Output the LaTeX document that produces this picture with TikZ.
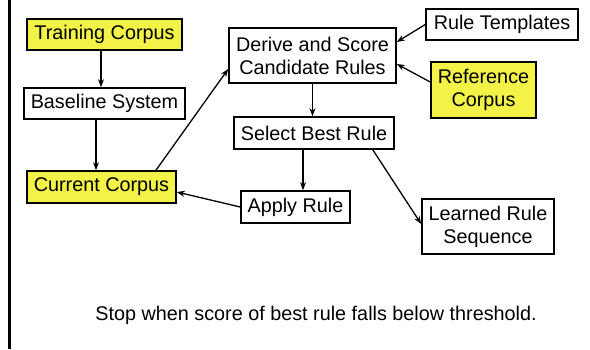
\documentclass[tikz,border=0pt]{standalone}
\usepackage{fontspec}
\setmainfont{Liberation Sans}
\usetikzlibrary{arrows.meta}
\definecolor{hilite}{RGB}{242,242,72}
\tikzset{
  box/.style={draw=black, line width=1.6pt, rectangle, inner sep=0pt, align=center,
    font=\fontsize{19.8}{23}\selectfont},
  yellowbox/.style={box, fill=hilite},
  arr/.style={line width=1.3pt, -{Stealth[length=8pt,width=6pt]}},
}
\begin{document}
\begin{tikzpicture}[x=1pt, y=-1pt]
  \useasboundingbox (0,0) rectangle (590,349);
  % left rule
  \draw[line width=3pt] (9,0) -- (9,349);

  % left column
  \node[yellowbox, minimum width=155pt, minimum height=31pt] (train) at (104.5,34.5) {Training Corpus};
  \node[box, minimum width=161pt, minimum height=31pt] (base) at (104.5,103.5) {Baseline System};
  \node[yellowbox, minimum width=149pt, minimum height=32pt] (cur) at (101.5,187) {Current Corpus};

  % centre column
  \node[box, minimum width=167pt, minimum height=55pt] (derive) at (312.5,55.5) {Derive and Score\\Candidate Rules};
  \node[box, minimum width=160pt, minimum height=32pt] (select) at (314,133) {Select Best Rule};
  \node[box, minimum width=109pt, minimum height=32pt] (apply) at (295.5,207) {Apply Rule};

  % right column
  \node[box, minimum width=152pt, minimum height=31pt] (templ) at (502,24.5) {Rule Templates};
  \node[yellowbox, minimum width=105pt, minimum height=56pt] (ref) at (483.5,90) {Reference\\Corpus};
  \node[box, minimum width=132pt, minimum height=55pt] (learned) at (488,226.5) {Learned Rule\\Sequence};

  % stopping condition
  \node[font=\fontsize{19.8}{23}\selectfont, inner sep=0pt] (stop) at (316,315)
    {Stop when score of best rule falls below threshold.};

  % connectors
  \draw[arr] ([xshift=-3.5pt]train.south) -- ([xshift=-3.5pt]base.north);
  \draw[arr] ([xshift=-8.5pt]base.south) -- ([xshift=-5.5pt]cur.north);
  \draw[arr] ([xshift=54.5pt]cur.north) -- ([yshift=-13.5pt]derive.west);
  \draw[arr] (templ.west) -- ([yshift=13.5pt]derive.east);
  \draw[arr] ([yshift=8pt]ref.west) -- ([yshift=-8.5pt]derive.east);
  \draw[arr] (derive.south) -- (derive.south |- select.north);
  \draw[arr] ([xshift=-11pt]select.south) -- ([xshift=-11pt]select.south |- apply.north);
  \draw[arr] (apply.west) -- ([yshift=-5pt]cur.east);
  \draw[arr] ([xshift=-22pt]select.south east) -- ([yshift=2.5pt]learned.west);
\end{tikzpicture}
\end{document}
